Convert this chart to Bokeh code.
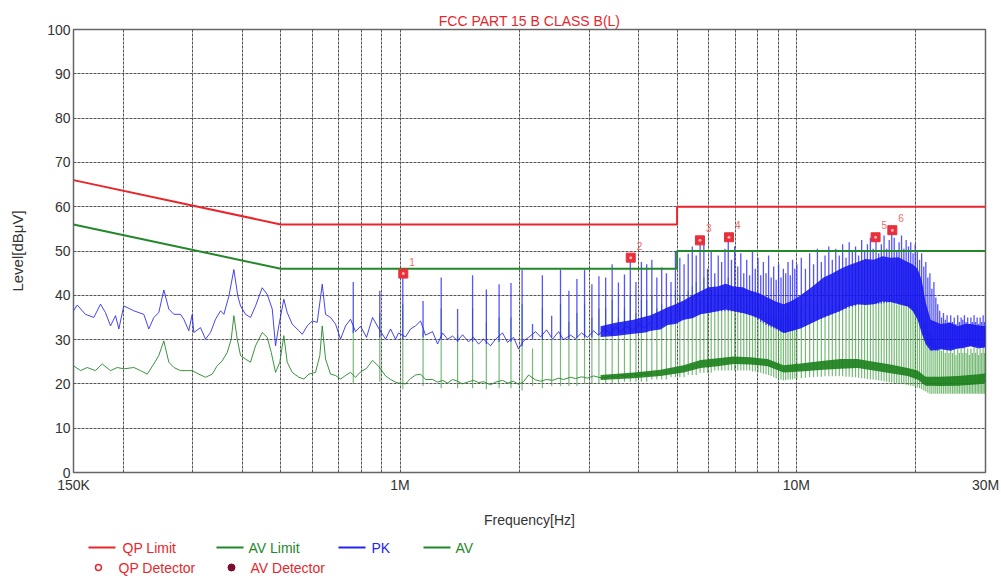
from bokeh.plotting import figure
from bokeh.models import Range1d, FixedTicker, CustomJSTickFormatter
from bokeh.layouts import column
from bokeh.embed import file_html
from bokeh.resources import INLINE
from bokeh.core.properties import value

FONT = "Liberation Sans"
TITLE = "FCC PART 15 B CLASS B(L)"

# ---------------- data (frequency in MHz, level in dBuV) ----------------
# limit lines
qp_lim_f = [0.15, 0.5, 5.0, 5.0, 30.0]
qp_lim_v = [66.0, 56.0, 56.0, 60.0, 60.0]
av_lim_f = [0.15, 0.5, 5.0, 5.0, 30.0]
av_lim_v = [56.0, 46.0, 46.0, 50.0, 50.0]

# PK trace, low band
pk_lo_f = [0.150, 0.1533, 0.1608, 0.1688, 0.1755, 0.1806, 0.1860, 0.1915, 0.1952, 0.2009,
           0.2130, 0.2257, 0.2323, 0.2392, 0.2462, 0.2535, 0.2610, 0.2687, 0.2793, 0.2847,
           0.2931, 0.2990, 0.3017, 0.3137, 0.3230, 0.3325, 0.3423, 0.3524, 0.3593, 0.3699,
           0.3808, 0.3897, 0.3959, 0.4075, 0.4195, 0.4319, 0.4490, 0.4623, 0.4759, 0.4851,
           0.4944, 0.5091, 0.5191, 0.5345, 0.5554, 0.5665, 0.5832, 0.6003, 0.6180, 0.6364,
           0.6487, 0.6678, 0.6875, 0.7077, 0.7286, 0.7500]
pk_lo_v = [36.5, 37.8, 35.7, 35.0, 38.0, 36.1, 33.1, 35.4, 32.4, 37.6,
           36.5, 35.7, 32.4, 35.0, 36.1, 41.2, 36.9, 35.7, 35.7, 34.6,
           32.0, 35.7, 31.6, 32.7, 30.1, 31.6, 34.6, 36.5, 35.7, 39.8,
           45.8, 39.8, 37.6, 35.7, 35.0, 37.6, 41.7, 40.2, 36.9, 28.6,
           33.1, 39.1, 36.1, 33.5, 32.0, 31.2, 33.1, 34.2, 33.9, 42.5,
           35.7, 35.0, 33.5, 30.1, 33.1, 34.6]

# AV trace, low band
av_lo_f = [0.150, 0.1563, 0.1624, 0.1704, 0.1772, 0.1860, 0.1934, 0.2009, 0.2130, 0.2214,
           0.2302, 0.2392, 0.2462, 0.2535, 0.2610, 0.2687, 0.2793, 0.2905, 0.2990, 0.3107,
           0.3230, 0.3358, 0.3457, 0.3559, 0.3664, 0.3750, 0.3808, 0.3883, 0.3959, 0.4075,
           0.4195, 0.4319, 0.4490, 0.4623, 0.4732, 0.4851, 0.4974, 0.5091, 0.5191, 0.5345,
           0.5554, 0.5717, 0.5886, 0.6119, 0.6275, 0.6364, 0.6487, 0.6678, 0.6875, 0.7077,
           0.7286, 0.7500]
av_lo_v = [24.1, 23.0, 23.7, 23.0, 24.5, 23.0, 23.7, 23.4, 23.7, 23.0,
           22.2, 24.5, 26.4, 29.7, 24.9, 23.7, 23.0, 23.0, 23.0, 22.2,
           21.5, 22.2, 24.1, 25.2, 27.1, 30.1, 35.4, 30.1, 26.4, 25.6,
           24.9, 28.6, 31.6, 30.5, 27.1, 22.6, 24.9, 30.9, 24.9, 22.6,
           21.5, 21.1, 22.2, 22.6, 26.4, 33.1, 25.6, 22.2, 21.9, 21.1,
           21.9, 22.6]

# PK / AV traces, mid band (between the harmonics)
mid_f = [0.7721, 0.7949, 0.8230, 0.8523, 0.8826, 0.9192, 0.9462, 0.9741, 0.9912, 1.0323,
         1.0629, 1.0942, 1.1265, 1.1597, 1.2080, 1.2435, 1.2801, 1.3178, 1.3569, 1.3967,
         1.4378, 1.4886, 1.5324, 1.5780, 1.6244, 1.6916, 1.7417, 1.8137, 1.8672, 1.9337,
         1.9907, 2.0493, 2.1098, 2.1974, 2.2620, 2.3426, 2.4257, 2.5116, 2.5856, 2.6931,
         2.7725, 2.8706, 2.9723, 3.0776, 3.1682, 3.2810, 3.3969, 3.4970, 3.6006, 3.7281,
         3.8606, 3.9972, 4.1388, 4.2864]
pk_mid_v = [31.8, 33.0, 30.5, 35.0, 32.6, 30.1, 32.4, 30.1, 31.5, 30.6,
            32.4, 33.1, 34.2, 31.0, 31.8, 29.0, 31.5, 30.1, 30.8, 29.7,
            31.1, 29.5, 30.5, 29.0, 30.1, 28.6, 30.1, 31.5, 29.4, 30.5,
            27.9, 29.7, 30.5, 31.8, 30.6, 32.2, 30.1, 31.8, 30.0, 31.0,
            30.2, 31.5, 30.5, 32.0, 31.0, 32.4, 31.2, 32.8, 31.8, 33.0,
            32.1, 33.5, 32.6, 34.0]
av_mid_v = [21.5, 22.7, 23.5, 25.3, 24.0, 21.8, 21.0, 20.4, 20.2, 20.0,
            21.2, 22.0, 22.2, 21.0, 21.0, 20.4, 20.8, 20.2, 21.0, 20.6,
            20.0, 20.5, 20.8, 20.3, 20.5, 19.8, 20.4, 20.8, 20.2, 20.6,
            19.9, 20.5, 22.0, 20.9, 20.6, 21.0, 20.8, 21.3, 21.0, 21.5,
            21.2, 21.6, 21.3, 21.8, 21.5, 21.3, 21.8, 21.5, 22.0, 21.7,
            22.2, 21.9, 22.4, 22.1]

# dense high band: min / max of the noise floor
pk_band_f = [3.206, 3.497, 3.884, 4.164, 4.286, 4.542, 4.731, 4.956, 5.193, 5.470,
             5.730, 6.005, 6.326, 6.629, 6.944, 7.316, 7.664, 8.030, 8.459, 8.862,
             9.283, 9.783, 10.25, 10.98, 11.71, 12.34, 12.93, 13.54, 14.27, 14.95,
             15.66, 16.50, 17.28, 18.10, 19.08, 19.64, 20.22, 20.70, 21.18, 21.81,
             23.11, 24.50, 25.51, 26.73, 27.51, 28.82, 30.0]
pk_band_lo = [30.6, 30.8, 31.3, 31.6, 32.0, 32.3, 33.3, 33.5, 34.5, 34.8,
              35.7, 36.0, 36.4, 36.8, 36.4, 36.0, 35.5, 34.8, 33.5, 32.6,
              31.5, 32.0, 32.5, 33.8, 35.0, 35.8, 36.5, 37.5, 38.0, 37.8,
              38.0, 38.6, 38.5, 38.0, 37.5, 36.5, 34.5, 31.5, 29.0, 27.5,
              27.8, 27.5, 28.0, 28.2, 28.5, 28.0, 28.3]
pk_band_hi = [33.0, 33.8, 34.5, 35.2, 35.5, 36.5, 37.3, 38.0, 38.8, 40.0,
              40.9, 41.8, 42.0, 42.6, 42.0, 41.8, 41.0, 40.5, 39.5, 38.6,
              38.0, 38.8, 40.0, 42.0, 44.0, 45.0, 46.0, 46.8, 47.5, 48.2,
              48.0, 48.8, 48.5, 48.6, 47.5, 47.0, 46.0, 43.5, 38.5, 34.5,
              33.5, 33.8, 33.0, 33.6, 33.5, 33.2, 33.0]
av_band_f = [3.206, 3.884, 4.542, 5.193, 5.730, 6.326, 6.944, 7.664, 8.459, 9.283,
             10.25, 11.71, 12.93, 14.27, 15.66, 17.28, 19.08, 20.22, 21.18, 23.11,
             25.51, 28.82, 30.0]
av_band_lo = [20.9, 21.3, 21.8, 22.6, 23.6, 24.0, 24.5, 24.4, 24.0, 22.6,
              22.8, 23.2, 23.4, 23.6, 23.0, 22.4, 21.8, 21.0, 19.6, 19.5,
              19.6, 19.9, 20.2]
av_band_hi = [22.0, 22.6, 23.2, 24.2, 25.4, 25.8, 26.2, 26.0, 25.6, 24.2,
              24.6, 25.2, 25.6, 25.6, 25.0, 24.4, 23.6, 23.0, 21.6, 21.6,
              21.8, 22.2, 22.4]

# harmonic spikes
spk_f = [0.762, 0.889, 1.016, 1.143, 1.270, 1.397, 1.524, 1.651, 1.778, 1.905,
         2.032, 2.159, 2.286, 2.413, 2.540, 2.667, 2.794, 2.921, 3.048, 3.175,
         3.302, 3.429, 3.556, 3.683, 3.810, 3.937, 4.064, 4.191, 4.318, 4.445,
         4.572, 4.699, 4.826, 4.953,
         5.080, 5.207, 5.334, 5.461, 5.588, 5.715, 5.842, 5.969, 6.096, 6.223,
         6.350, 6.477, 6.604, 6.731, 6.858, 6.985, 7.112, 7.239, 7.366, 7.493,
         7.620, 7.747, 7.874, 8.001, 8.128, 8.255, 8.382, 8.509, 8.636, 8.763,
         8.890, 9.017, 9.144, 9.271, 9.398, 9.525, 9.652, 9.779, 9.906, 10.03,
         10.29, 10.54, 10.80, 11.05, 11.30, 11.56, 11.81, 12.07, 12.32, 12.57,
         12.83, 13.08, 13.34, 13.59, 13.84, 14.10, 14.35, 14.61, 14.86, 15.11,
         15.37, 15.62, 15.88, 16.13, 16.38, 16.64, 16.89, 17.15, 17.40, 17.65,
         17.91, 18.16, 18.42, 18.67, 18.92, 19.18, 19.43, 19.69, 19.94, 20.19,
         20.45, 20.70, 20.96, 21.21, 21.46, 21.72, 21.97, 22.23, 22.48, 22.73,
         22.99, 23.24, 23.50, 23.75, 24.00, 24.26, 24.51, 24.77, 25.02, 25.27,
         25.53, 25.78, 26.04, 26.29, 26.54, 26.80, 27.05, 27.31, 27.56, 27.81,
         28.07, 28.32, 28.58, 28.83, 29.08, 29.34, 29.59, 29.85]
pk_spk_top = [43.0, 41.0, 45.4, 38.7, 44.0, 36.9, 44.5, 41.3, 42.5, 42.8,
              45.7, 33.5, 44.5, 35.4, 45.8, 41.0, 43.7, 45.8, 42.5, 44.3,
              44.0, 47.0, 42.9, 44.7, 48.5, 43.0, 47.5, 47.0, 48.0, 44.0,
              46.3, 45.0, 43.0, 50.0,
              48.5, 47.0, 49.4, 51.0, 49.0, 52.4, 53.3, 46.0, 50.0, 45.0,
              49.0, 47.5, 50.5, 53.5, 48.0, 51.0, 46.5, 49.5, 45.0, 48.0,
              44.5, 50.0, 46.0, 48.5, 44.5, 47.5, 45.0, 49.0, 44.0, 46.5,
              43.5, 47.0, 44.0, 46.0, 45.0, 47.5, 44.5, 48.0, 46.0, 47.0,
              48.5, 46.0, 49.5, 47.0, 50.5, 47.5, 49.0, 51.0, 48.0, 50.5,
              49.0, 51.5, 48.5, 52.0, 50.0, 51.0, 49.0, 52.5, 50.0, 51.5,
              53.0, 50.5, 53.0, 49.5, 51.5, 53.5, 50.5, 52.5, 54.5, 53.0,
              50.0, 52.0, 53.5, 50.5, 52.5, 51.0, 52.0, 49.5, 51.5, 50.0,
              48.0, 49.5, 46.5, 47.5, 44.0, 45.0, 41.5, 43.0, 39.5, 38.0,
              36.5, 35.0, 36.0, 34.5, 35.5, 34.0, 35.5, 34.0, 35.0, 33.5,
              35.5, 34.0, 35.0, 34.5, 35.5, 34.0, 35.0, 33.5, 35.0, 34.0,
              35.5, 34.0, 35.0, 33.5, 35.0, 34.0, 35.5, 34.0]
pk_spk_base = [31.5, 30.5, 30.0, 30.5, 30.0, 29.5, 29.5, 29.0, 29.5, 29.5,
               28.5, 30.0, 30.0, 30.5, 30.0, 30.0, 30.5, 30.5, 30.5, 31.0,
               31.0, 31.0, 31.5, 31.5, 31.5, 31.5, 32.0, 32.0, 32.0, 32.5,
               33.0, 33.5, 33.5, 34.0,
               34.5, 34.5, 35.0, 35.0, 35.5, 35.7, 36.0, 36.0, 36.2, 36.4,
               36.4, 36.4, 36.4, 36.4, 36.4, 36.4, 36.2, 36.0, 36.0, 35.8,
               35.5, 35.3, 35.0, 34.5, 34.0, 33.7, 33.3, 33.0, 32.8, 32.5,
               32.3, 32.0, 31.8, 31.6, 31.5, 31.7, 31.9, 32.0, 32.2, 32.4,
               32.8, 33.2, 33.6, 34.0, 34.4, 34.7, 35.0, 35.4, 35.7, 36.0,
               36.3, 36.6, 36.9, 37.2, 37.4, 37.6, 37.8, 38.0, 38.0, 38.0,
               38.0, 38.0, 38.0, 38.0, 38.1, 38.2, 38.3, 38.4, 38.5, 38.5,
               38.3, 38.1, 37.9, 37.8, 37.6, 37.5, 37.2, 36.5, 35.8, 35.0,
               34.0, 32.5, 31.0, 30.0, 29.0, 28.5, 28.0, 27.8, 27.5, 27.5,
               27.8, 28.0, 28.0, 28.0, 28.0, 28.0, 28.0, 28.0, 28.0, 28.0,
               28.0, 28.0, 28.0, 28.0, 28.5, 28.5, 28.5, 28.5, 28.5, 28.5,
               28.5, 28.5, 28.5, 28.5, 28.3, 28.3, 28.3, 28.3]
av_spk_top = [33.0, 36.0, 38.0, 32.0, 37.0, 31.0, 37.0, 34.0, 35.0, 35.0,
              38.0, 28.0, 37.0, 30.0, 38.0, 34.0, 36.0, 38.0, 35.0, 37.0,
              37.0, 39.0, 35.0, 37.0, 40.0, 36.0, 39.0, 39.0, 40.0, 37.0,
              38.0, 37.0, 36.0, 41.0,
              40.0, 38.0, 41.0, 42.0, 43.0, 39.0, 44.0, 38.0, 41.0, 37.0,
              40.0, 39.0, 41.0, 44.0, 39.0, 42.0, 38.0, 40.0, 37.0, 39.0,
              36.0, 41.0, 37.0, 39.0, 36.0, 38.0, 36.0, 40.0, 35.0, 37.0,
              35.0, 38.0, 35.0, 37.0, 36.0, 38.0, 35.0, 39.0, 37.0, 38.0,
              37.5, 36.0, 38.0, 37.0, 38.5, 37.0, 38.0, 39.0, 37.5, 38.5,
              38.0, 39.5, 37.5, 39.0, 38.0, 39.5, 38.0, 39.0, 38.5, 39.5,
              40.0, 38.5, 39.5, 38.0, 39.0, 40.0, 38.5, 39.5, 38.5, 39.5,
              38.0, 39.0, 39.5, 38.0, 39.0, 38.0, 38.5, 37.5, 38.0, 37.0,
              36.0, 35.5, 34.0, 33.5, 32.0, 31.5, 30.5, 29.5, 29.0, 28.5,
              28.0, 27.5, 28.5, 27.0, 28.0, 27.0, 28.5, 27.0, 28.0, 26.5,
              28.0, 27.0, 28.0, 27.0, 28.5, 27.0, 28.0, 26.5, 28.0, 27.0,
              28.5, 27.0, 28.0, 26.5, 28.0, 27.0, 28.5, 27.0]
av_spk_base = [20.0, 20.5, 18.8, 19.5, 19.0, 19.0, 19.0, 18.8, 19.0, 19.0,
               18.5, 19.5, 19.0, 19.5, 19.5, 19.5, 19.5, 20.0, 20.0, 20.0,
               20.0, 20.0, 20.0, 20.5, 20.5, 20.5, 20.5, 20.5, 21.0, 21.0,
               21.0, 21.0, 21.5, 21.5,
               21.5, 21.5, 22.0, 22.0, 22.0, 22.5, 22.5, 22.5, 22.5, 23.0,
               23.0, 23.0, 23.0, 23.0, 23.0, 23.0, 23.0, 23.0, 23.0, 23.0,
               23.0, 22.8, 22.8, 22.6, 22.5, 22.3, 22.2, 22.0, 21.8, 21.5,
               21.2, 21.0, 21.0, 20.8, 20.8, 21.0, 21.0, 21.0, 21.2, 21.2,
               21.3, 21.4, 21.5, 21.5, 21.6, 21.6, 21.7, 21.7, 21.7, 21.7,
               21.7, 21.7, 21.6, 21.6, 21.5, 21.5, 21.4, 21.3, 21.2, 21.1,
               21.0, 21.0, 20.9, 20.8, 20.7, 20.6, 20.5, 20.4, 20.3, 20.2,
               20.1, 20.0, 20.0, 19.9, 19.8, 19.7, 19.6, 19.5, 19.4, 19.2,
               19.0, 18.8, 18.5, 18.3, 18.0, 17.8, 17.8, 17.8, 17.8, 17.8,
               17.8, 17.8, 17.8, 17.8, 17.8, 17.8, 17.8, 17.8, 17.8, 17.8,
               17.8, 17.8, 17.8, 17.8, 17.8, 17.8, 17.8, 17.8, 17.8, 17.8,
               17.8, 17.8, 17.8, 17.8, 17.8, 17.8, 17.8, 17.8]

# QP detector markers
mk_f = [1.019, 3.82, 5.71, 6.76, 15.84, 17.46]
mk_v = [44.9, 48.5, 52.4, 53.1, 53.1, 54.7]
mk_lbl = ["1", "2", "3", "4", "5", "6"]

# axis ticks
x_ticks = [0.15, 1.0, 10.0, 30.0]
x_grid = [0.2, 0.3, 0.4, 0.5, 0.6, 0.7, 0.8, 0.9, 1.0, 2.0, 3.0, 4.0, 5.0,
          6.0, 7.0, 8.0, 9.0, 10.0, 20.0]
y_ticks = [0, 10, 20, 30, 40, 50, 60, 70, 80, 90, 100]
y_grid = [10, 20, 30, 40, 50, 60, 70, 80, 90]

# legend
leg1_lbl = ["QP Limit", "AV Limit", "PK", "AV"]
leg2_lbl = ["QP Detector", "AV Detector"]

# ---------------- styles ----------------
RED = "#e8262c"
GREEN = "#23882a"
BLUE = "#2424f0"
GRID = "#555555"
TXT = "#333333"

p = figure(width=1001, height=530, x_axis_type="log",
           x_range=Range1d(0.15, 30.0), y_range=Range1d(0, 100),
           output_backend="svg", toolbar_location=None,
           min_border_left=73, min_border_right=16, min_border_top=29,
           min_border_bottom=56, title=TITLE)
p.background_fill_color = "white"
p.border_fill_color = "white"
p.outline_line_color = "#666666"
p.outline_line_width = 1.5

p.title.align = "center"
p.title.text_color = RED
p.title.text_font = FONT
p.title.text_font_size = "14px"
p.title.text_font_style = "normal"
p.title.standoff = 2

p.xgrid.ticker = FixedTicker(ticks=x_grid)
p.ygrid.ticker = FixedTicker(ticks=y_grid)
for g in (p.xgrid, p.ygrid):
    g.grid_line_color = GRID
    g.grid_line_dash = "3 1"
    g.grid_line_width = 1

p.xaxis.ticker = FixedTicker(ticks=x_ticks)
p.xaxis.formatter = CustomJSTickFormatter(
    code="return tick < 1 ? Math.round(tick*1000) + 'K' : Math.round(tick) + 'M';")
p.yaxis.ticker = FixedTicker(ticks=y_ticks)
for ax in (p.xaxis, p.yaxis):
    ax.major_tick_out = 0
    ax.major_tick_in = 0
    ax.minor_tick_out = 0
    ax.minor_tick_in = 0
    ax.axis_line_color = None
    ax.major_label_text_font = FONT
    ax.major_label_text_font_size = "14px"
    ax.major_label_text_color = TXT
    ax.axis_label_text_font = FONT
    ax.axis_label_text_font_size = "14px"
    ax.axis_label_text_font_style = "normal"
    ax.axis_label_text_color = TXT
p.xaxis.axis_label = "Frequency[Hz]"
p.yaxis.axis_label = "Level[dB\u03bcV]"
p.yaxis.axis_label_text_font_size = "15px"
p.xaxis.major_label_standoff = 4
p.yaxis.major_label_standoff = 3
p.xaxis.axis_label_standoff = 16
p.yaxis.axis_label_standoff = 18

# AV trace
p.segment(x0=spk_f, y0=av_spk_base, x1=spk_f, y1=av_spk_top,
          line_color="#3c9c3c", line_alpha=0.7, line_width=1.2)
p.line(av_lo_f + mid_f, av_lo_v + av_mid_v, line_color=GREEN, line_width=1, line_alpha=0.9)
p.varea(x=av_band_f, y1=av_band_lo, y2=av_band_hi, fill_color="#1b7f1b", fill_alpha=0.9)

# PK trace
p.segment(x0=spk_f, y0=pk_spk_base, x1=spk_f, y1=pk_spk_top,
          line_color="#2a2aff", line_alpha=0.8, line_width=1.3)
p.line(pk_lo_f + mid_f, pk_lo_v + pk_mid_v, line_color=BLUE, line_width=1, line_alpha=0.85)
p.varea(x=pk_band_f, y1=pk_band_lo, y2=pk_band_hi, fill_color="#1414ee", fill_alpha=0.88)

# limits
p.line(qp_lim_f, qp_lim_v, line_color=RED, line_width=2)
p.line(av_lim_f, av_lim_v, line_color=GREEN, line_width=2)

# markers
p.scatter(mk_f, mk_v, marker="square", size=9, fill_color="#e8303c",
          line_color="#e8303c")
p.scatter(mk_f, mk_v, marker="circle", size=3, fill_color="#ffb4b4",
          line_color=None)
p.text(mk_f, mk_v, text=mk_lbl, x_offset=6, y_offset=-8,
       text_font=value(FONT), text_font_size="10px", text_color="#f06a6a",
       text_baseline="bottom", text_align="left")

# ---------------- legend strip (frame aligned with main plot: x 73..985) ----------------
lg = figure(width=1001, height=50, x_range=Range1d(73, 985), y_range=Range1d(50, 0),
            output_backend="svg", toolbar_location=None, min_border=0,
            x_axis_location=None, y_axis_location=None)
lg.grid.visible = False
lg.outline_line_color = None
lg.background_fill_color = "white"
lg.border_fill_color = "white"

leg1_col = [RED, GREEN, BLUE, GREEN]
leg1_x0 = [88, 216, 338, 423]
leg1_tx = [122, 248, 371, 455]
lg.segment(x0=leg1_x0, y0=[17] * 4, x1=[x + 27 for x in leg1_x0], y1=[17] * 4,
           line_color=leg1_col, line_width=2)
lg.text(x=leg1_tx, y=[17] * 4, text=leg1_lbl, text_color=leg1_col,
        text_font=value(FONT), text_font_size="14px", text_baseline="middle")
lg.scatter([98], [37], marker="circle", size=6, fill_color="white", line_color=RED,
           line_width=1.5)
lg.scatter([231], [37], marker="circle", size=7, fill_color="#7c0c2c", line_color="#7c0c2c")
lg.text(x=[118, 250], y=[37, 37], text=leg2_lbl, text_color=RED,
        text_font=value(FONT), text_font_size="14px", text_baseline="middle")

layout = column(p, lg, spacing=0)
open("out.html", "w").write(file_html(layout, INLINE))
